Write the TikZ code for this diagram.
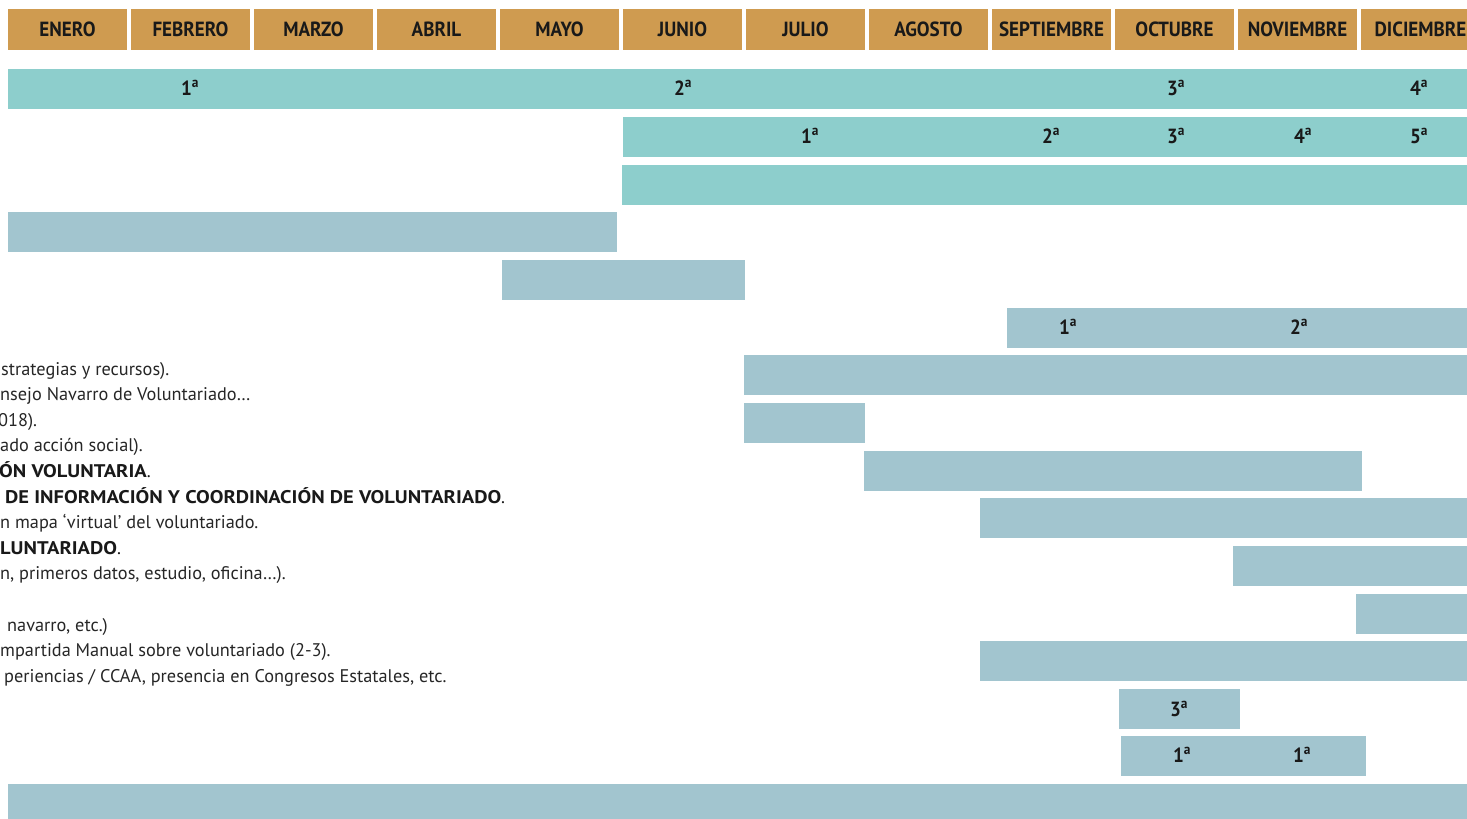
\documentclass[tikz,border=0pt]{standalone}
\usepackage{fontspec}
\setmainfont{PT Sans}
\newfontfamily\bodyf{PT Sans}
\newfontfamily\boldf[FakeStretch=1.12]{PT Sans}
\newfontfamily\headf[FakeStretch=0.93]{PT Sans}
\definecolor{tan}{RGB}{207,155,80}
\definecolor{tealbar}{RGB}{141,206,204}
\definecolor{greybar}{RGB}{162,197,207}
\tikzset{
  month/.style={fill=tan, minimum width=119pt, minimum height=41pt, inner sep=0pt, text=black!90, font=\headf\bfseries\fontsize{20.5}{20.5}\selectfont},
  lab/.style={inner sep=0pt, text=black!90, font=\headf\bfseries\fontsize{20.5}{20.5}\selectfont},
  txt/.style={anchor=base west, inner sep=0pt, text=black!85, font=\bodyf\fontsize{18.3}{18.3}\selectfont},
  btxt/.style={anchor=base west, inner sep=0pt, text=black!90, font=\boldf\bfseries\fontsize{18.3}{18.3}\selectfont},
  tbar/.style={fill=tealbar},
  gbar/.style={fill=greybar}
}
\newcommand{\ord}[1]{#1\textsuperscript{a}}
\newcommand{\pt}{{\bodyf\mdseries .}}
\begin{document}
\begin{tikzpicture}[x=1pt,y=-1pt]
\useasboundingbox (0,0) rectangle (1467,819);
\clip (0,0) rectangle (1467,819);
% months
\foreach \m [count=\i from 0] in {ENERO,FEBRERO,MARZO,ABRIL,MAYO,JUNIO,JULIO,AGOSTO,SEPTIEMBRE,OCTUBRE,NOVIEMBRE,DICIEMBRE}
  \node[month] (m\i) at ({67.5+123*\i},29.5) {\m};
% bars
\path[tbar] (8,69) rectangle (1467,109);
\path[tbar] (623,117) rectangle (1467,157);
\path[tbar] (622,165) rectangle (1467,205);
\path[gbar] (8,212) rectangle (617,252);
\path[gbar] (502,260) rectangle (745,300);
\path[gbar] (1007,308) rectangle (1467,348);
\path[gbar] (744,355) rectangle (1467,395);
\path[gbar] (744,403) rectangle (865,443);
\path[gbar] (864,451) rectangle (1362,491);
\path[gbar] (980,498) rectangle (1467,538);
\path[gbar] (1233,546) rectangle (1467,586);
\path[gbar] (1356,594) rectangle (1467,634);
\path[gbar] (980,641) rectangle (1467,681);
\path[gbar] (1119,689) rectangle (1240,729);
\path[gbar] (1121,736) rectangle (1366,776);
\path[gbar] (8,784) rectangle (1467,830);
% bar labels
\node[lab] (a1) at (190,88) {\ord{1}};
\node[lab] (a2) at (683,88) {\ord{2}};
\node[lab] (a3) at (1176,88) {\ord{3}};
\node[lab] (a4) at (1419,88) {\ord{4}};
\node[lab] (b1) at (810,136) {\ord{1}};
\node[lab] (b2) at (1051,136) {\ord{2}};
\node[lab] (b3) at (1176,136) {\ord{3}};
\node[lab] (b4) at (1303,136) {\ord{4}};
\node[lab] (b5) at (1419,136) {\ord{5}};
\node[lab] (c1) at (1068,327) {\ord{1}};
\node[lab] (c2) at (1299,327) {\ord{2}};
\node[lab] (d3) at (1179,709) {\ord{3}};
\node[lab] (e1) at (1182,755) {\ord{1}};
\node[lab] (e2) at (1302,755) {\ord{1}};
% left texts
\node[txt] (t0) at (1,375) {strategias y recursos).};
\node[txt] (t1) at (0,400.6) {nsejo Navarro de Voluntariado…};
\node[txt] (t2) at (-2,426.2) {018).};
\node[txt] (t3) at (0,451.8) {ado acción social).};
\node[btxt] (t4) at (-1,477.4) {ÓN VOLUNTARIA\pt};
\node[btxt] (t5) at (5,503) {DE INFORMACIÓN Y COORDINACIÓN DE VOLUNTARIADO\pt};
\node[txt] (t6) at (0,528.6) {n mapa ‘virtual’ del voluntariado.};
\node[btxt] (t7) at (0,554.2) {LUNTARIADO\pt};
\node[txt] (t8) at (0,579.8) {n, primeros datos, estudio, oficina…).};
\node[txt] (t10) at (7,631) {navarro, etc.)};
\node[txt] (t11) at (0,656.6) {mpartida Manual sobre voluntariado (2-3).};
\node[txt] (t12) at (4,682.2) {periencias / CCAA, presencia en Congresos Estatales, etc.};
\end{tikzpicture}
\end{document}
